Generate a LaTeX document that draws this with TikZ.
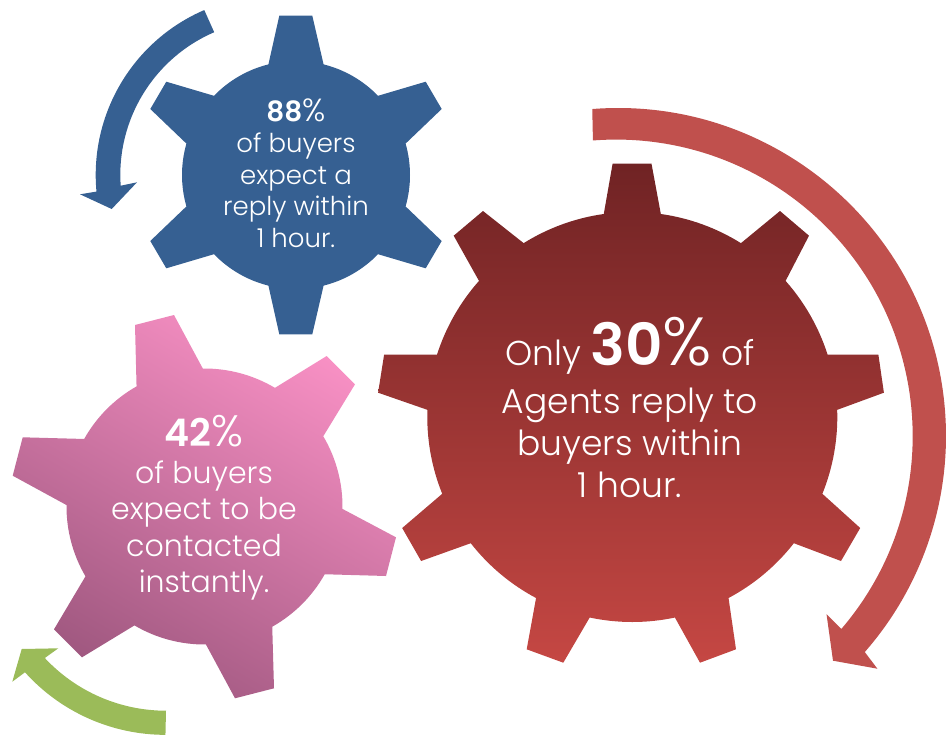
\documentclass[tikz,border=0pt]{standalone}
\usepackage{fontspec}
\setmainfont{Poppins Light}[BoldFont={Poppins SemiBold}]
\usetikzlibrary{calc}
\definecolor{gearblue}{HTML}{366092}
\definecolor{arrowred}{HTML}{C0504D}
\definecolor{arrowgreen}{HTML}{9BBB59}
\definecolor{gearTop}{HTML}{702324}
\definecolor{gearMid}{HTML}{AC3D3A}
\definecolor{gearBot}{HTML}{C54743}
\definecolor{pinkTop}{HTML}{F890C4}
\definecolor{pinkMid}{HTML}{E07DB0}
\definecolor{pinkBot}{HTML}{A05880}
\tikzset{
  gearlabel/.style={text=white,align=center,inner sep=0pt},
}
\newcommand\PR[3]{($(#1)+(#2:#3pt)$)}
\newcommand\AR[3]{arc[start angle=#1,end angle=#2,radius=#3pt]}
\begin{document}
\begin{tikzpicture}[x=1pt,y=1pt,yscale=-1]
\useasboundingbox (0,0) rectangle (948,734);
\coordinate (cb) at (296,175);
\coordinate (cr) at (632.3,417);
\coordinate (cp) at (204.5,506.5);
\coordinate (ab) at (275.3,175);
\coordinate (ar) at (618,436);
\coordinate (ag) at (166,545);
% arrows
\fill[arrowred] \PR{ar}{-94.5}{328} \AR{-94.5}{41.2}{328} -- (877.4,668.7) -- (833,660.7) -- (826.5,614) -- (841.3,629) \AR{40.6}{-94.5}{296.5} -- cycle;
\fill[gearblue] \PR{ab}{246.7}{179.6} \AR{246.7}{174.7}{179.6} -- (80,194.3) -- (111.7,209) -- (137,182.3) -- (120.7,185.7) \AR{176}{246.7}{155.3} -- cycle;
\fill[arrowgreen] \PR{ag}{90}{165.7} \AR{90}{137}{165.7} -- (58.3,648.3) -- (21.7,649) -- (12.3,681.7) -- (25,672.3) \AR{138}{90}{189} -- cycle;
% blue gear
\fill[gearblue] \PR{cb}{-104}{114} -- (279.3,15.7) -- (312.3,15.7) -- \PR{cb}{-76}{114} \AR{-76}{-44}{114}
 -- (425.7,81.7) -- (441.7,109) -- \PR{cb}{-16}{114} \AR{-16}{16}{114}
 -- (441.7,241) -- (425.7,268.3) -- \PR{cb}{44}{114} \AR{44}{76}{114}
 -- (312.3,334.3) -- (279.3,334.3) -- \PR{cb}{104}{114} \AR{104}{136}{114}
 -- (166.3,268.3) -- (150.3,241) -- \PR{cb}{164}{114} \AR{164}{196}{114}
 -- (150.3,109) -- (166.3,81.7) -- \PR{cb}{224}{114} \AR{224}{256}{114} -- cycle;
% red gear
\shade[top color=gearTop,middle color=gearMid,bottom color=gearBot] \PR{cr}{-98}{205} -- (612.6,163.7) -- (651.5,163.7) -- \PR{cr}{-82}{205} \AR{-82}{-58}{205}
 -- (780,211) -- (809,235.7) -- \PR{cr}{-41.6}{205} \AR{-41.6}{-17.7}{205}
 -- (878.4,354.7) -- (883.9,392.7) -- \PR{cr}{-2}{205} \AR{-2}{22}{205}
 -- (860.2,528) -- (841,561) -- \PR{cr}{38}{205} \AR{38}{62}{205}
 -- (736,649.3) -- (700,662.7) -- \PR{cr}{78}{205} \AR{78}{102}{205}
 -- (563.3,662.7) -- (526.7,649.3) -- \PR{cr}{118}{205} \AR{118}{142}{205}
 -- (421.1,561) -- (402.2,528) -- \PR{cr}{158}{205} \AR{158}{182}{205}
 -- (378.1,392.7) -- (384.1,354.7) -- \PR{cr}{197.7}{205} \AR{197.7}{221.6}{205}
 -- (453.7,235.7) -- (483,211) -- \PR{cr}{238}{205} \AR{238}{262}{205} -- cycle;
% pink gear
\shade[top color=pinkTop,middle color=pinkMid,bottom color=pinkBot,shading angle=-30] \PR{cp}{-119.5}{138} -- (135,325) -- (174,315) -- \PR{cp}{-90.7}{138} \AR{-90.7}{-59.3}{138}
 -- (326.7,356) -- (355,384.3) -- \PR{cp}{-30.6}{138} \AR{-30.6}{1}{138}
 -- (396,537.3) -- (386,576) -- \PR{cp}{29.4}{138} \AR{29.4}{60.6}{138}
 -- (274,688.3) -- (235,698.3) -- \PR{cp}{89.4}{138} \AR{89.4}{120.5}{138}
 -- (82,657.3) -- (54,629.3) -- \PR{cp}{149.6}{138} \AR{149.6}{180.6}{138}
 -- (12.7,475.7) -- (22.7,437.3) -- \PR{cp}{209.3}{138} \AR{209.3}{240.5}{138} -- cycle;
% labels
\node[gearlabel,font=\fontsize{26}{31.5}\selectfont] (bluetext) at (296,173) {{\fontsize{28}{31.5}\selectfont\bfseries 88}{\fontsize{32}{31.5}\selectfont\%}\\of buyers\\expect a\\reply within\\1 hour.};
\node[gearlabel,font=\fontsize{30}{36.5}\selectfont] (pinktext) at (204,508) {{\fontsize{38}{36.5}\selectfont\bfseries 42}{\fontsize{44}{36.5}\selectfont\%}\\of buyers\\expect to be\\contacted\\instantly.};
\node[gearlabel,font=\fontsize{34.5}{41.7}\selectfont] (redtext) at (630,407.5) {Only {\fontsize{58}{41.7}\selectfont\bfseries 30}{\fontsize{68}{41.7}\selectfont\%} of\\[6pt]Agents reply to\\buyers within\\1 hour.};
\end{tikzpicture}
\end{document}
